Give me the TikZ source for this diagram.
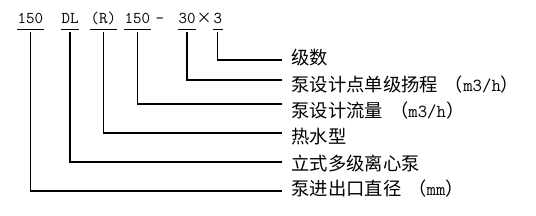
\documentclass[tikz,border=0pt]{standalone}
\usepackage{fontspec}
\newfontfamily\cjk{Noto Sans CJK SC}
\newcommand\pgap{\hspace{7pt}}
\begin{document}
\begin{tikzpicture}[x=1pt,y=-1pt,line width=1.1pt,
  code/.style={inner sep=0pt,anchor=base west,font=\fontsize{16.5}{16}\selectfont\ttfamily},
  codecjk/.style={inner sep=0pt,anchor=base west,font=\fontsize{15}{15}\selectfont\cjk},
  lbl/.style={inner sep=0pt,anchor=west,font=\fontsize{18.3}{18}\selectfont\cjk},
  lead/.style={line width=1.1pt}]
\useasboundingbox (0,0) rectangle (536,216);
% code string
\node[code] (a) at (17,24) {150};
\node[code] (b) at (61,24) {DL};
\node[code] (c) at (90,24) {(R)};
\node[code] (d) at (124,24) {150};
\node[code] (dash) at (155,24) {-};
\node[code] (e) at (178,24) {30};
\node[codecjk] (x) at (196,24) {×};
\node[code] (f) at (213,24) {3};
% underlines
\foreach \n in {a,b,c,d,e,f}
  \draw[lead] ([yshift=-5.5pt]\n.base west) -- ([yshift=-5.5pt]\n.base east);
% labels
\node[lbl] (l1) at (291,58) {级数};
\node[lbl] (l2) at (291,85) {泵设计点单级扬程\pgap（{\ttfamily m3/h}）};
\node[lbl] (l3) at (291,111) {泵设计流量\pgap（{\ttfamily m3/h}）};
\node[lbl] (l4) at (291,137) {热水型};
\node[lbl] (l5) at (291,164) {立式多级离心泵};
\node[lbl] (l6) at (291,189) {泵进出口直径\pgap（{\ttfamily mm}）};
% line ends
\coordinate (k1) at (282,60);
\coordinate (k2) at (282,80);
\coordinate (k3) at (282,104);
\coordinate (k4) at (282,133);
\coordinate (k5) at (282,162);
\coordinate (k6) at (282,191);
% leaders
\draw[lead] ([yshift=-8pt]f.base) |- (k1);
\draw[lead] ([yshift=-8pt]e.base) |- (k2);
\draw[lead] ([yshift=-8pt]d.base) |- (k3);
\draw[lead] ([yshift=-8pt]c.base) |- (k4);
\draw[lead] ([yshift=-8pt]b.base) |- (k5);
\draw[lead] ([yshift=-8pt]a.base) |- (k6);
\end{tikzpicture}
\end{document}
